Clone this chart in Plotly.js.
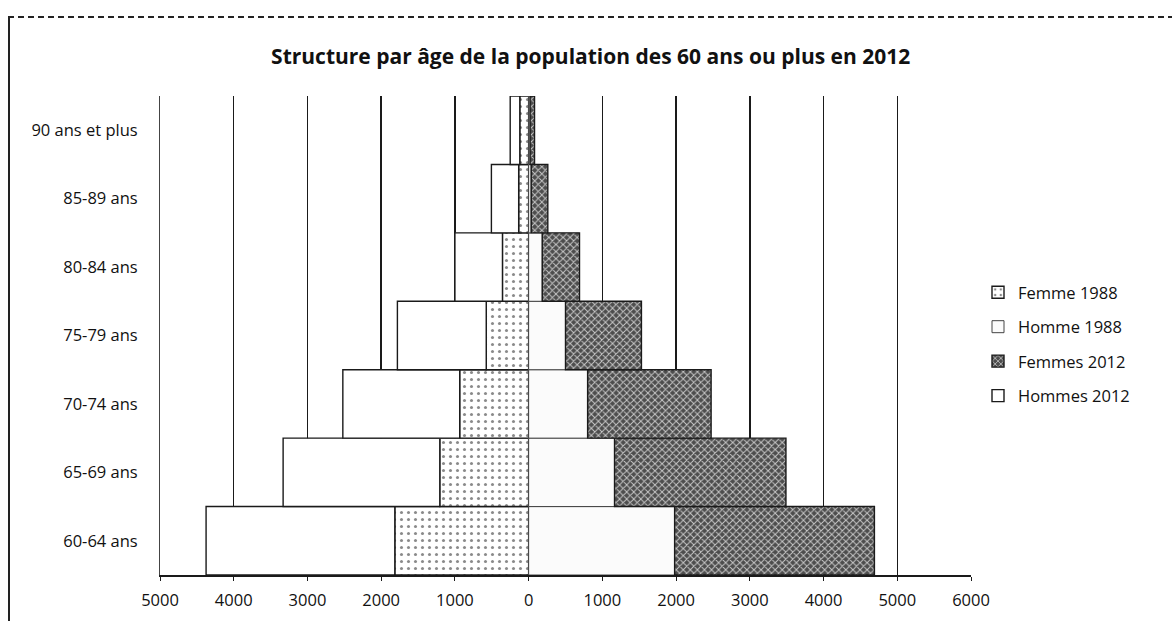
<!DOCTYPE html>
<html>
<head>
<meta charset="utf-8">
<script src="https://cdn.plot.ly/plotly-3.0.1.min.js"></script>
<style>
  html, body { margin: 0; padding: 0; background: #fff; }
  #wrap { position: relative; width: 1172px; height: 621px; }
  #chart { position: absolute; left: 0; top: 0; width: 1172px; height: 621px; }
  #frame { position: absolute; left: 8px; top: 16px; width: 1164px; height: 605px;
           border-top: 2px dashed #222; border-left: 2px solid #222; pointer-events: none; }
</style>
</head>
<body>
<div id="wrap">
  <div id="chart"></div>
  <div id="frame"></div>
</div>
<script>
// Age groups (bottom to top)
const ageGroups = ["60-64 ans", "65-69 ans", "70-74 ans", "75-79 ans", "80-84 ans", "85-89 ans", "90 ans et plus"];

// Values (left side series are drawn as negative values)
const femme1988   = [1815, 1205, 935, 575, 355, 135, 120];
const homme1988   = [1980, 1165, 800, 500, 185, 35, 20];
const femmes2012  = [2710, 2325, 1675, 1030, 505, 225, 60];
const hommes2012  = [2560, 2125, 1585, 1205, 645, 370, 130];

// Axis tick labels
const tickValues = [-5000, -4000, -3000, -2000, -1000, 0, 1000, 2000, 3000, 4000, 5000, 6000];
const tickLabels = ["5000", "4000", "3000", "2000", "1000", "0", "1000", "2000", "3000", "4000", "5000", "6000"];

const FONT = "Open Sans, Liberation Sans, sans-serif";
const outline = { color: "#1a1a1a", width: 1.4 };

const traces = [
  {
    type: "bar", orientation: "h", name: "Femme 1988", legendgroup: "a",
    y: ageGroups, x: femme1988.map(v => -v),
    marker: { color: "#ffffff", line: outline,
              pattern: { shape: ".", fgcolor: "#8a8a8a", bgcolor: "#ffffff", size: 7, solidity: 0.15 } },
    hoverinfo: "skip"
  },
  {
    type: "bar", orientation: "h", name: "Homme 1988", legendgroup: "b",
    y: ageGroups, x: homme1988,
    marker: { color: "#fbfbfb", line: { color: "#444", width: 1 } },
    hoverinfo: "skip"
  },
  {
    type: "bar", orientation: "h", name: "Femmes 2012", legendgroup: "c",
    y: ageGroups, x: femmes2012,
    marker: { color: "#4d4d4d", line: outline,
              pattern: { shape: "x", fgcolor: "#c8c8c8", bgcolor: "#4d4d4d", size: 5, solidity: 0.35 } },
    hoverinfo: "skip"
  },
  {
    type: "bar", orientation: "h", name: "Hommes 2012", legendgroup: "d",
    y: ageGroups, x: hommes2012.map(v => -v),
    marker: { color: "#ffffff", line: outline },
    hoverinfo: "skip"
  }
];

const layout = {
  width: 1172, height: 621,
  margin: { l: 160, r: 201, t: 96, b: 46, pad: 0 },
  paper_bgcolor: "#ffffff", plot_bgcolor: "#ffffff",
  barmode: "relative", bargap: 0,
  font: { family: FONT, size: 16, color: "#111" },
  title: {
    text: "<b>Structure par âge de la population des 60 ans ou plus en 2012</b>",
    font: { family: FONT, size: 21, color: "#111" },
    xref: "container", x: 0.504, xanchor: "center",
    yref: "container", y: 1 - 57 / 621, yanchor: "middle"
  },
  xaxis: {
    range: [-5000, 6000], tickvals: tickValues, ticktext: tickLabels,
    showgrid: true, gridcolor: "#1a1a1a", gridwidth: 1.5,
    zeroline: true, zerolinecolor: "#1a1a1a", zerolinewidth: 1.5,
    showline: true, linecolor: "#1a1a1a", linewidth: 2,
    ticks: "outside", ticklen: 4, tickcolor: "#1a1a1a",
    ticklabelstandoff: 5,
    tickfont: { family: FONT, size: 16.5, color: "#111" },
    fixedrange: true
  },
  yaxis: {
    type: "category", categoryorder: "array", categoryarray: ageGroups,
    showgrid: false, zeroline: false,
    showline: true, linecolor: "#444", linewidth: 1,
    ticks: "", ticklabelstandoff: 18,
    tickfont: { family: FONT, size: 16.5, color: "#111" },
    fixedrange: true
  },
  showlegend: true,
  legend: {
    x: 978 / 1172, xref: "container", xanchor: "left",
    y: 1 - 275 / 621, yref: "container", yanchor: "top",
    traceorder: "grouped", tracegroupgap: 10,
    font: { family: FONT, size: 16.5, color: "#111" },
    itemwidth: 30, bgcolor: "rgba(0,0,0,0)"
  }
};

Plotly.newPlot("chart", traces, layout, { staticPlot: true, displayModeBar: false });
</script>
</body>
</html>
